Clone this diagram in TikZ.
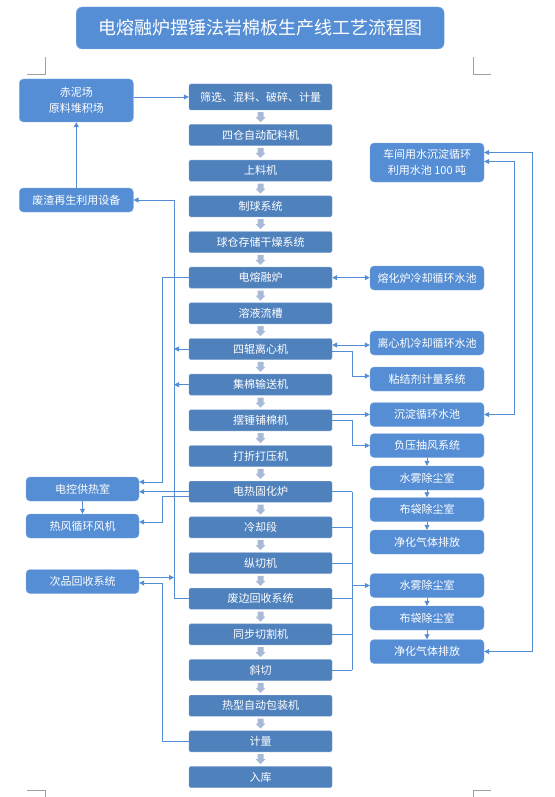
\documentclass[tikz,border=0pt]{standalone}
\usepackage{fontspec}
\setmainfont{Noto Sans CJK SC}
\definecolor{boxblue}{RGB}{79,129,189}
\definecolor{sideblue}{RGB}{85,142,213}
\definecolor{lineblue}{RGB}{84,141,212}
\definecolor{stepgray}{RGB}{168,186,216}
\definecolor{markgray}{RGB}{160,160,160}
\usetikzlibrary{positioning,calc,arrows.meta}
\tikzset{downstep/.pic={\fill[stepgray] (-3,-5) -- (3,-5) -- (3,0) -- (5,0) -- (0,5) -- (-5,0) -- (-3,0) -- cycle;}}

\begin{document}
\begin{tikzpicture}[x=1pt,y=-1pt,
  mainbox/.style={draw=boxblue!75!white,fill=boxblue,rounded corners=1.5pt,
    minimum width=143pt,minimum height=21pt,inner sep=0pt,text=white,
    font=\fontsize{11}{13}\selectfont},
  sidebox/.style={draw=sideblue!70!white,fill=sideblue,rounded corners=4pt,
    minimum width=114pt,minimum height=24pt,inner sep=0pt,text=white,
    align=center,font=\fontsize{11}{16}\selectfont},
  link/.style={lineblue,line width=0.8pt,-{Triangle[length=5pt,width=5pt]}},
  twolink/.style={link,{Triangle[length=5pt,width=5pt]}-{Triangle[length=5pt,width=5pt]}},
  bus/.style={lineblue,line width=0.8pt}]
  \useasboundingbox (0,0) rectangle (554,797);

  \node[draw=sideblue!70!white,fill=sideblue,rounded corners=6pt,
        minimum width=368pt,minimum height=42pt,text=white,
        font=\fontsize{18}{20}\selectfont] (title) at (260.2,28) {电熔融炉摆锤法岩棉板生产线工艺流程图};
  \draw[markgray,line width=0.6pt] (27,74) -- (45,74) -- (45,57);
  \draw[markgray,line width=0.6pt] (473,57) -- (473,74) -- (491,74);
  \draw[markgray,line width=0.6pt] (27,790) -- (45,790) -- (45,797);
  \draw[markgray,line width=0.6pt] (473,797) -- (473,790) -- (491,790);

  \node[mainbox,minimum height=26pt] (m1) at (260.5,97) {筛选、混料、破碎、计量};
  \foreach \i/\t in {2/四仓自动配料机, 3/上料机, 4/制球系统, 5/球仓存储干燥系统,
                     6/电熔融炉, 7/溶液流槽, 8/四辊离心机, 9/集棉输送机,
                     10/摆锤铺棉机, 11/打折打压机, 12/电热固化炉, 13/冷却段,
                     14/纵切机, 15/废边回收系统, 16/同步切割机, 17/斜切,
                     18/热型自动包装机, 19/计量, 20/入库}{
    \node[mainbox] (m\i) at (260.5,{135+(\i-2)*35.67}) {\t};
  }
  \foreach \i [evaluate=\i as \j using int(\i-1)] in {2,...,20}
    \pic at ($(m\j.south)!0.5!(m\i.north)$) {downstep};

  \node[sidebox,minimum height=43pt] (chini) at (76.3,100.5) {赤泥场\\原料堆积场};
  \node[sidebox] (feizha) at (76.3,200) {废渣再生利用设备};
  \node[sidebox,minimum width=113pt] (dk) at (82.5,489) {电控供热室};
  \node[sidebox,minimum width=113pt] (rf) at (82.5,526) {热风循环风机};
  \node[sidebox,minimum width=113pt] (cp) at (82.5,581.5) {次品回收系统};

  \node[sidebox,minimum height=39pt] (cj) at (427,162.5) {车间用水沉淀循环\\利用水池 100 吨};
  \foreach \n/\y/\t in {rh/278/熔化炉冷却循环水池, lx/343/离心机冷却循环水池,
                        nj/379/粘结剂计量系统, cd/414.5/沉淀循环水池,
                        fy/445.5/负压抽风系统, sw1/478/水雾除尘室,
                        bd1/509.5/布袋除尘室, jh1/542/净化气体排放,
                        sw2/585.5/水雾除尘室, bd2/618/布袋除尘室,
                        jh2/651.5/净化气体排放}{
    \node[sidebox] (\n) at (427,\y) {\t};
  }

  \coordinate (busL) at (174,0);
  \coordinate (busLL) at (162.5,0);
  \coordinate (busR) at (352,0);
  \coordinate (farA) at (514,0);
  \coordinate (farB) at (532,0);

  \draw[link] (m1.west -| chini.east) -- (m1.west);
  \draw[link] (feizha) -- (chini);
  \draw[link] (m15.west) -- (m15.west -| busL) |- (feizha.east);
  \foreach \i in {8,9}
    \draw[link] (m\i.west) -- (m\i.west -| busL);
  \draw[link] (m6.west) -- (m6.west -| busLL) |- ($(dk.east)+(0,-7)$);
  \draw[link] (m12.west) -- (m12.west -| dk.east);
  \coordinate (m12b) at ($(m12.west)+(0,4.5)$);
  \draw[link] (m12b) -- (m12b -| busLL) |- ($(rf.east)+(0,-4)$);
  \draw[link] (dk) -- (rf);
  \coordinate (cpa) at ($(cp.east)+(0,-4)$);
  \draw[link] (cpa) -- (cpa -| busL);
  \draw[link] (m19.west) -- (m19.west -| busLL) |- ($(cp.east)+(0,1.5)$);

  \draw[twolink] (m6.east) -- (m6.east -| rh.west);
  \coordinate (m8a) at ($(m8.east)+(0,-4)$);
  \draw[twolink] (m8a) -- (m8a -| lx.west);
  \coordinate (m8b) at ($(m8.east)+(0,2)$);
  \draw[link] (m8b) -- (m8b -| busR) |- ($(nj.west)+(0,-3)$);
  \draw[link] (cd.west -| m10.east) -- (cd.west);
  \draw[link] (m10.east) -- (m10.east -| busR) |- (fy.west);
  \foreach \a/\b in {fy/sw1, sw1/bd1, bd1/jh1, sw2/bd2, bd2/jh2}
    \draw[link] (\a) -- (\b);
  \foreach \i in {12,...,17}
    \draw[bus] (m\i.east) -- (m\i.east -| busR);
  \draw[bus] (m12.east -| busR) -- (m17.east -| busR);
  \draw[link] (sw2.west -| busR) -- (sw2.west);
  \coordinate (cja) at ($(cj.east)+(0,-1)$);
  \draw[twolink] (cja) -- (cja -| farA) |- (cd.east);
  \coordinate (cjb) at ($(cj.east)+(0,-10)$);
  \draw[twolink] (cjb) -- (cjb -| farB) |- (jh2.east);
\end{tikzpicture}
\end{document}
